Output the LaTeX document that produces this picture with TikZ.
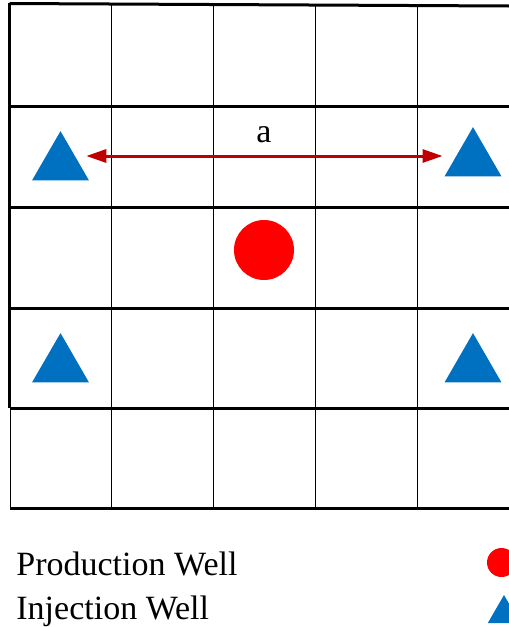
\documentclass[tikz,border=0pt]{standalone}
\usepackage{fontspec}
\setmainfont{Liberation Serif}
\usetikzlibrary{arrows.meta, shapes.geometric, calc}
\definecolor{wlblue}{HTML}{0070C0}
\definecolor{wlred}{HTML}{FF0000}
\definecolor{wldark}{HTML}{C00000}

\begin{document}
\begin{tikzpicture}[
  x=0.5pt, y=-0.5pt,
  every node/.style={font=\fontsize{17}{20}\selectfont},
  thickline/.style={draw=black, line width=1.5pt},
  thinline/.style={draw=black, line width=0.4pt},
  injwell/.style={regular polygon, regular polygon sides=3, fill=wlblue, inner sep=0pt, minimum size=32.9pt},
  prodwell/.style={circle, fill=wlred, inner sep=0pt, minimum size=30pt},
  distarrow/.style={{Triangle[length=10pt,width=6.5pt]}-{Triangle[length=10pt,width=6.5pt]}, wldark, line width=1.5pt},
]
\useasboundingbox (0,0) rectangle (509,627);

% Grid
\foreach \x in {111,213,315,417}
  \draw[thinline] (\x,4) -- (\x,508);
\draw[thickline] (9.5,3.5) -- (509,6);
\foreach \y in {106,207,308,408,508}
  \draw[thickline] (10,\y) -- (509,\y);
\draw[thickline] (9.5,3) -- (9.5,408);
\draw[thinline] (10,408) -- (10,508);

% Wells
\node[injwell] (inj1) at (60.5,164) {};
\node[injwell] (inj2) at (473,160) {};
\node[injwell] (inj3) at (60.5,366) {};
\node[injwell] (inj4) at (473,366) {};
\node[prodwell] (prod) at (264,250) {};

% Well spacing
\node[anchor=base] (dist) at (264,142) {a};
\draw[distarrow] ($(inj1.east)+(6.3,-8)$) -- ($(inj2.west)+(-11,-4)$);

% Legend
\node[anchor=base west, inner sep=0pt] (prodtext) at (16,575) {Production Well};
\node[anchor=base west, inner sep=0pt] (injtext) at (16,619) {Injection Well};
\node[prodwell, minimum size=14.5pt] (prodkey) at (501.5,562.5) {};
\node[injwell, minimum size=18.7pt] (injkey) at (504,613.7) {};
\end{tikzpicture}
\end{document}
